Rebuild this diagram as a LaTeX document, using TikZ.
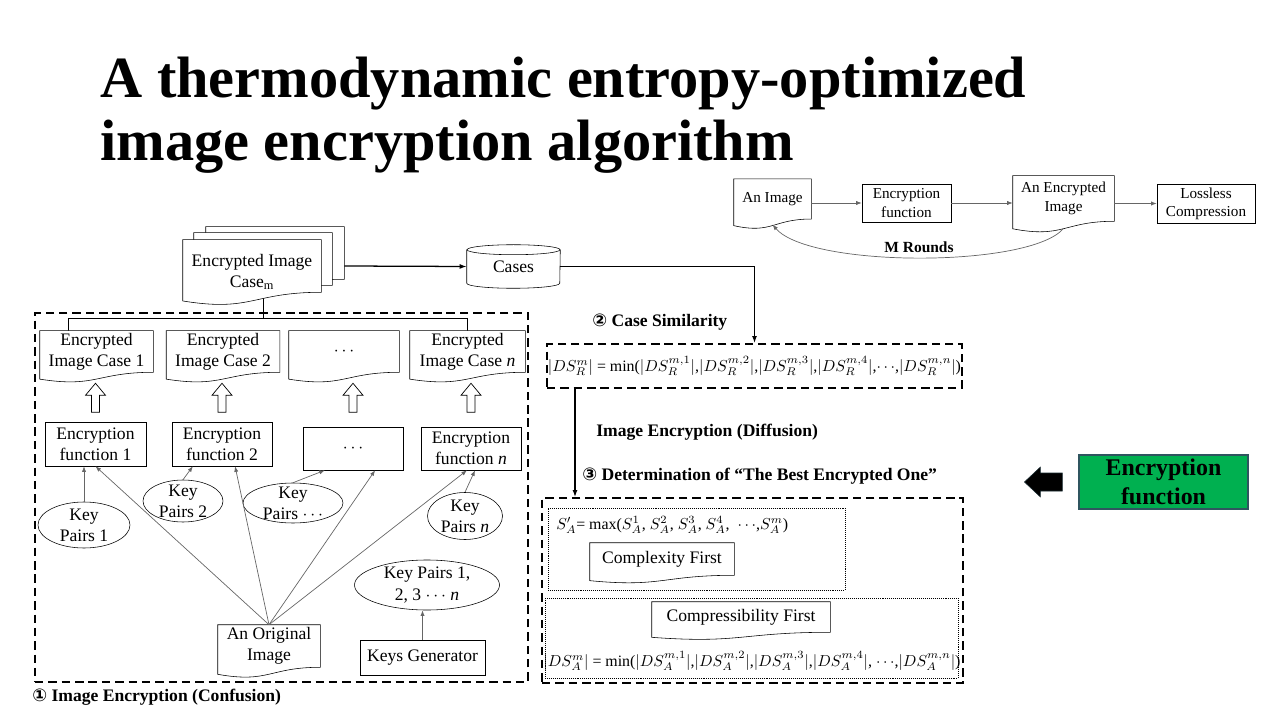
\RequirePackage{fix-cm}
\documentclass[tikz,border=0pt]{standalone}
\usepackage{fontspec}
\setmainfont{Liberation Serif}
\newfontfamily\circfont{DejaVu Sans}
\usetikzlibrary{shapes.geometric,arrows.meta,calc,backgrounds}
\definecolor{boxgreen}{RGB}{0,176,80}
\definecolor{boxedge}{RGB}{47,85,95}

% document outline with a wavy bottom, drawn round a node
\newcommand{\docframe}[2][0,0]{%
  \draw[fill=white] let \p1=(#2.north), \p2=(#2.south), \n1={\y1-\y2} in
    ([shift={(#1)}]#2.north west) -- ([shift={(#1)}]#2.north east)
    -- ([shift={(#1)}]#2.south east)
    .. controls ([shift={(#1)}]#2.south) and ([shift={(#1)},yshift={-0.38*\n1}]#2.south)
    .. ([shift={(#1)},yshift={-0.165*\n1}]#2.south west) -- cycle;}

\begin{document}
\begin{tikzpicture}[x=0.025cm,y=-0.025cm,font=\fontsize{12.5}{15}\selectfont,
  sz/.style 2 args={minimum width=#1*0.025cm,minimum height=#2*0.025cm},
  box/.style={draw,rectangle,align=center,inner sep=0pt},
  docbox/.style={rectangle,align=center,inner sep=0pt},
  keyell/.style={draw,ellipse,inner sep=0pt},
  link/.style={draw=black!60,line width=0.5pt,-{Latex[length=4pt,width=3pt]}},
  flow/.style={line width=0.9pt,-{Latex[length=5pt,width=3.5pt]}},
  dashbox/.style={draw,line width=1.3pt,dash pattern=on 6pt off 3.5pt,inner sep=0pt},
  dotbox/.style={draw,densely dotted,line width=0.4pt,inner sep=0pt},
  formula/.style={font=\fontsize{11.3}{13.5}\selectfont},
  lbl/.style={font=\fontsize{12.5}{15}\selectfont\bfseries,anchor=west,inner sep=0pt}]
\useasboundingbox (0,0) rectangle (1280,720);

\node[anchor=north west,align=left,inner sep=0pt,font=\fontsize{41.5}{44.6}\selectfont\bfseries] (title) at (100,57)
  {A thermodynamic entropy-optimized\\image encryption algorithm};

% M rounds
\begin{scope}[font=\fontsize{10.8}{13}\selectfont]
\node[docbox,sz={77}{39.5}] (img) at (772.5,199) {An Image};
\node[box,sz={89}{38}] (enc) at (906.5,203) {Encryption\\function};
\node[docbox,sz={101}{45}] (encimg) at (1063.5,198.5) {An Encrypted\\Image};
\node[box,sz={98}{39}] (lossless) at (1206,203.5) {Lossless\\Compression};
\end{scope}
\draw[link] (img.east |- enc.west) -- (enc.west);
\draw[link] (enc.east) -- (enc.east -| encimg.west);
\draw[link] (encimg.east |- lossless.west) -- (lossless.west);
\draw[link] ([yshift=-0.18cm]encimg.south) .. controls (1030,268) and (810,268) .. ([yshift=-0.14cm]img.south);
\node[font=\fontsize{11}{13}\selectfont\bfseries] (rounds) at (919,247) {M Rounds};

% confusion
\node[dashbox,sz={493}{369}] (conf) at (281.5,497.5) {};
\node[lbl] (conflbl) at (32,697) {{\circfont ①} Image Encryption (Confusion)};

\node[docbox,sz={138}{52},label={[align=center,yshift=-0.15cm]center:Encrypted Image\\Case\textsubscript{m}}] (stack) at (252,266) {};
\node[sz={93}{43}] (cases) at (513.5,266.5) {Cases};
\draw ([yshift=-0.125cm]cases.north) ellipse [x radius=1.1625cm,y radius=0.125cm];
\draw ([yshift=-0.125cm]cases.north west) -- ([yshift=0.125cm]cases.south west)
  arc[start angle=180,end angle=360,x radius=1.1625cm,y radius=0.125cm] -- ([yshift=-0.125cm]cases.north east);

\node[docbox,sz={113}{41}] (c1) at (96.5,351.5) {Encrypted\\Image Case 1};
\node[docbox,sz={113}{41}] (c2) at (223,351.5) {Encrypted\\Image Case 2};
\node[docbox,sz={110}{41}] (c3) at (344,351.5) {$\cdots$};
\node[docbox,sz={115}{41}] (c4) at (467.5,351.5) {Encrypted\\Image Case \textit{n}};

\node[box,sz={101}{44}] (f1) at (95.5,444) {Encryption\\function 1};
\node[box,sz={100}{44}] (f2) at (222,444) {Encryption\\function 2};
\node[box,sz={100}{43}] (f3) at (353,448.5) {$\cdots$};
\node[box,sz={100}{43}] (f4) at (471,448.5) {Encryption\\function \textit{n}};

\foreach \c/\f in {c1/f1,c2/f2,c3/f3,c4/f4}
  \draw[fill=white,line width=0.5pt] (\c.south -| \f.north) ++(0,11) -- ++(10,12) -- ++(-6,0) -- ++(0,17)
    -- ++(-8,0) -- ++(0,-17) -- ++(-6,0) -- cycle;

\node[keyell,sz={92}{46},label={[align=center]center:Key\\Pairs 1}] (kp1) at (84,525) {};
\node[keyell,sz={80}{42},label={[align=center]center:Key\\Pairs 2}] (kp2) at (183,501) {};
\node[keyell,sz={100}{40},label={[align=center]center:Key\\Pairs $\cdots$}] (kp3) at (293,503) {};
\node[keyell,sz={75}{47},label={[align=center]center:Key\\Pairs \textit{n}}] (kp4) at (465,516) {};
\node[keyell,sz={145}{50},label={[align=center]center:Key Pairs 1,\\2, 3 $\cdots$ \textit{n}}] (kpall) at (427,585) {};

\node[docbox,sz={102}{42}] (orig) at (269,646) {An Original\\Image};
\node[box,sz={125}{35}] (keygen) at (422.5,657.5) {Keys Generator};

\draw[link] (kp1.north) -- (kp1.north |- f1.south);
\draw[link] (orig.north) -- (f1.south);
\draw[link] (kp2.north) -- ($(f2.south west)!0.21!(f2.south east)$);
\draw[link] (orig.north) -- ($(f2.south west)!0.63!(f2.south east)$);
\draw[link] (kp3.north) -- ($(f3.south west)!0.22!(f3.south east)$);
\draw[link] (orig.north) -- ($(f3.south west)!0.72!(f3.south east)$);
\draw[link] (orig.north) -- ($(f4.south west)!0.46!(f4.south east)$);
\draw[link] (kp4.north) -- ($(f4.south west)!0.54!(f4.south east)$);
\draw[link] (keygen.north) -- (keygen.north |- kpall.south);

% similarity and diffusion
\node[dashbox,formula,sz={415}{44}] (sim) at (754.5,366)
  {$|DS^m_R|$ = min($|DS^{m,1}_R|$,$|DS^{m,2}_R|$,$|DS^{m,3}_R|$,$|DS^{m,4}_R|$,$\cdots$,$|DS^{m,n}_R|$)};
\node[lbl] (simlbl) at (592,322) {{\circfont ②} Case Similarity};
\node[lbl] (difflbl) at (596,432) {Image Encryption (Diffusion)};
\node[lbl] (bestlbl) at (582,476) {{\circfont ③} Determination of “The Best Encrypted One”};

\node[dashbox,sz={421}{185}] (best) at (752.5,590.5) {};
\node[dotbox,sz={297}{82}] (cplxbox) at (696.5,549) {};
\node[dotbox,sz={413}{80}] (cmprbox) at (751.5,638) {};
\node[formula,anchor=west,inner sep=0pt] (smax) at (556,525)
  {$S'_A$= max($S^1_A$, $S^2_A$, $S^3_A$, $S^4_A$, \ $\cdots$,$S^m_A$)};
\node[docbox,sz={144}{32}] (cplx) at (662,559) {Complexity First};
\node[docbox,sz={178}{30}] (cmpr) at (741,617) {Compressibility First};
\node[formula,inner sep=0pt] (dsmin) at (752,661)
  {$|DS^m_A|$ = min($|DS^{m,1}_A|$,$|DS^{m,2}_A|$,$|DS^{m,3}_A|$,$|DS^{m,4}_A|$, $\cdots$,$|DS^{m,n}_A|$)};

\draw[flow] ([xshift=0.575cm]stack.east) -- (cases.west);
\draw[flow] (cases.east) -| (sim.north);
\coordinate (dn) at (575,400);
\draw[flow] (sim.south -| dn) -- (best.north -| dn);

\node[draw=boxedge,fill=boxgreen,line width=0.8pt,sz={169}{54},align=center,inner sep=0pt,
  font=\fontsize{17}{20.5}\selectfont\bfseries] (encfn) at (1163.5,482) {Encryption\\function};
\draw[fill=black,draw=boxedge!50!black] (encfn.west) ++(-54,0) -- ++(16,-15) -- ++(0,6) -- ++(22,0)
  -- ++(0,18) -- ++(-22,0) -- ++(0,6) -- cycle;

\begin{pgfonlayer}{background}
\coordinate (brL) at (68,318);
\coordinate (brR) at (467,318);
\coordinate (brM) at (263,318);
\draw (brL |- c1.north) -- (brL) -- (brR) -- (brR |- c4.north);
\draw (brM) -- (brM |- stack.center);
\docframe[23,-13]{stack}
\docframe[11,-7]{stack}
\docframe{stack}
\foreach \d in {img,encimg,c1,c2,c3,c4,orig,cplx,cmpr}
  \docframe{\d};
\end{pgfonlayer}
\end{tikzpicture}
\end{document}
